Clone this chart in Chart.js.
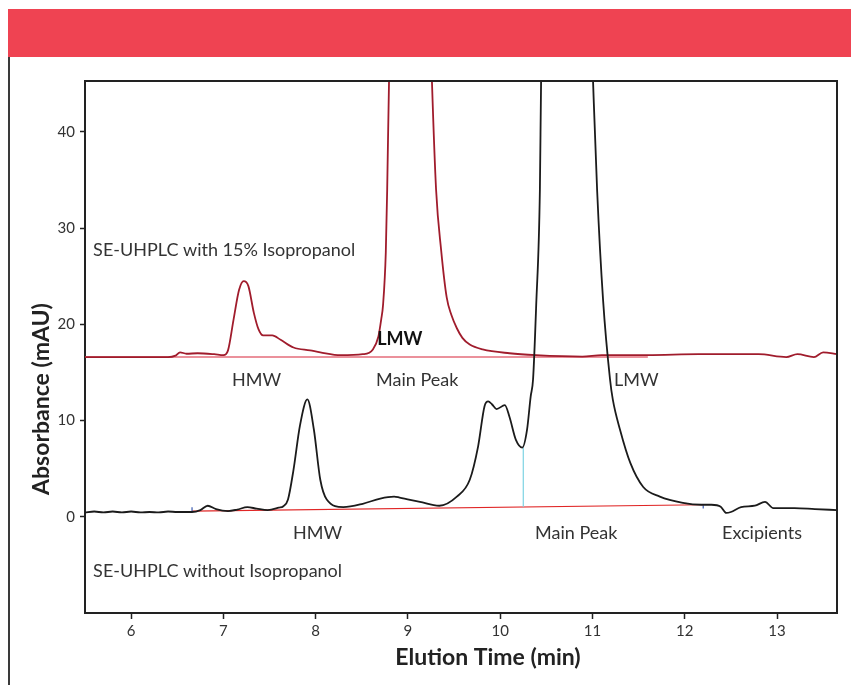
<!DOCTYPE html>
<html>
<head>
<meta charset="utf-8">
<script src="https://cdn.jsdelivr.net/npm/chart.js@4.4.1/dist/chart.umd.min.js"></script>
<style>
  html, body { margin: 0; padding: 0; background: #fff; }
  #wrap { position: relative; width: 851px; height: 685px; overflow: hidden; }
  #banner { position: absolute; left: 8px; top: 9px; width: 843px; height: 48px; background: #ef4352; }
  #rule { position: absolute; left: 8px; top: 57px; width: 1.5px; height: 628px; background: #3a3a3a; }
  #chart { position: absolute; left: 0; top: 0; }
</style>
</head>
<body>
<div id="wrap">
  <div id="banner"></div>
  <div id="rule"></div>
  <canvas id="chart" width="851" height="685"></canvas>
</div>
<script>
// SE-UHPLC with 15% isopropanol (upper trace)
const ipaTime = [5.50, 6.00, 6.40, 6.48, 6.53, 6.60, 6.72, 6.90, 7.00, 7.05, 7.11, 7.17, 7.22, 7.27, 7.33, 7.38, 7.43, 7.53, 7.62, 7.76, 7.94, 8.05, 8.27, 8.51, 8.62, 8.68, 8.71, 8.73, 8.76, 8.775, 8.795, 8.85, 8.95, 9.03, 9.13, 9.21, 9.26, 9.305, 9.36, 9.42, 9.47, 9.53, 9.59, 9.67, 9.81, 10.10, 10.39, 10.89, 11.10, 11.60, 12.15, 12.80, 13.10, 13.22, 13.40, 13.50, 13.65];
const ipaAbs  = [16.6, 16.6, 16.6, 16.75, 17.1, 16.95, 17.0, 16.9, 16.8, 17.3, 20.5, 23.6, 24.5, 24.0, 21.2, 19.5, 18.85, 18.85, 18.4, 17.6, 17.3, 17.1, 16.8, 16.9, 17.4, 18.75, 20.5, 22.0, 27.5, 34.0, 45.3, 62, 78, 84, 78, 62, 45.3, 34.0, 27.7, 22.8, 21.0, 19.6, 18.6, 17.9, 17.4, 17.0, 16.8, 16.65, 16.8, 16.8, 16.9, 16.9, 16.6, 16.9, 16.6, 17.1, 16.9];

// SE-UHPLC without isopropanol (lower trace)
const noIpaTime = [5.50, 5.60, 5.70, 5.80, 5.90, 6.00, 6.10, 6.20, 6.30, 6.40, 6.50, 6.66, 6.75, 6.83, 6.92, 7.05, 7.15, 7.26, 7.36, 7.48, 7.60, 7.65, 7.70, 7.76, 7.83, 7.91, 7.98, 8.05, 8.12, 8.30, 8.51, 8.70, 8.85, 8.91, 9.13, 9.34, 9.53, 9.67, 9.76, 9.83, 9.87, 9.91, 9.96, 10.05, 10.10, 10.17, 10.24, 10.29, 10.33, 10.356, 10.39, 10.43, 10.443, 10.52, 10.72, 10.90, 11.006, 11.05, 11.115, 11.19, 11.22, 11.30, 11.41, 11.55, 11.73, 11.98, 12.18, 12.29, 12.39, 12.45, 12.50, 12.61, 12.76, 12.87, 12.96, 13.19, 13.41, 13.65];
const noIpaAbs  = [0.45, 0.55, 0.45, 0.55, 0.45, 0.55, 0.45, 0.5, 0.45, 0.55, 0.5, 0.5, 0.7, 1.15, 0.8, 0.6, 0.75, 1.0, 0.85, 0.7, 0.95, 1.1, 1.8, 4.9, 9.5, 12.2, 9.1, 3.85, 1.8, 1.0, 1.35, 1.9, 2.1, 2.0, 1.55, 1.15, 2.1, 3.85, 7.3, 11.5, 12.0, 11.7, 11.2, 11.6, 10.4, 8.0, 7.2, 9.0, 12.5, 14.3, 22.0, 34.0, 45.3, 75, 98, 75, 45.3, 34.0, 22.5, 14.3, 12.2, 9.0, 5.6, 3.1, 2.1, 1.45, 1.25, 1.25, 1.05, 0.4, 0.5, 1.0, 1.15, 1.55, 0.9, 0.9, 0.8, 0.7];

// integration baselines and markers
const ipaBaseTime = [5.50, 11.60];
const ipaBaseAbs = [16.6, 16.6];
const noIpaBaseTime = [6.66, 12.20];
const noIpaBaseAbs = [0.6, 1.25];
const dropTime = [10.25, 10.25];
const dropAbs = [1.05, 7.2];
const startTickTime = [6.66, 6.66];
const startTickAbs = [0.5, 1.0];
const endTickTime = [12.20, 12.20];
const endTickAbs = [0.85, 1.2];

const xTicks = [6, 7, 8, 9, 10, 11, 12, 13];
const yTicks = [0, 10, 20, 30, 40];

const xTitle = 'Elution Time (min)';
const yTitle = 'Absorbance (mAU)';

const peakLabels = [
  { text: 'SE-UHPLC with 15% Isopropanol', t: 5.588, v: 27.74 },
  { text: 'HMW', t: 7.094, v: 14.23 },
  { text: 'LMW', t: 8.666, v: 18.49, bold: true },
  { text: 'Main Peak', t: 8.655, v: 14.23 },
  { text: 'LMW', t: 11.234, v: 14.23 },
  { text: 'HMW', t: 7.755, v: -1.66 },
  { text: 'Main Peak', t: 10.378, v: -1.66 },
  { text: 'Excipients', t: 12.404, v: -1.66 },
  { text: 'SE-UHPLC without Isopropanol', t: 5.588, v: -5.61 }
];

function toPoints(xs, ys) {
  return xs.map((t, i) => ({ x: t, y: ys[i] }));
}

function lineSet(xs, ys, color, width, smooth) {
  return {
    data: toPoints(xs, ys),
    borderColor: color,
    borderWidth: width,
    pointRadius: 0,
    fill: false,
    tension: smooth ? 0.4 : 0,
    cubicInterpolationMode: smooth ? 'monotone' : 'default'
  };
}

const labelPlugin = {
  id: 'peakLabels',
  afterDatasetsDraw(chart) {
    const { ctx, scales: { x, y } } = chart;
    ctx.save();
    ctx.textBaseline = 'middle';
    ctx.textAlign = 'left';
    peakLabels.forEach(l => {
      ctx.font = (l.bold ? 'bold ' : '') + '18px Lato';
      ctx.fillStyle = l.bold ? '#111' : '#333';
      ctx.fillText(l.text, x.getPixelForValue(l.t), y.getPixelForValue(l.v));
    });
    ctx.restore();
  }
};

// frame top/right edges and the two axis titles (titles sit off-centre in the original)
const framePlugin = {
  id: 'frame',
  afterDraw(chart) {
    const { ctx, chartArea: a } = chart;
    ctx.save();
    ctx.strokeStyle = '#222';
    ctx.lineWidth = 2;
    ctx.beginPath();
    ctx.moveTo(a.left, a.top);
    ctx.lineTo(a.right, a.top);
    ctx.lineTo(a.right, a.bottom);
    ctx.stroke();

    ctx.fillStyle = '#222';
    ctx.textAlign = 'center';
    ctx.textBaseline = 'middle';
    ctx.font = 'bold 23px Lato';
    ctx.fillText(xTitle, a.left + 403, a.bottom + 45);
    ctx.translate(42, a.top + 318);
    ctx.rotate(-Math.PI / 2);
    ctx.fillText(yTitle, 0, 0);
    ctx.restore();
  }
};

const ctx = document.getElementById('chart').getContext('2d');
new Chart(ctx, {
  type: 'line',
  data: {
    datasets: [
      lineSet(noIpaTime, noIpaAbs, '#1b1b1b', 1.8, true),
      lineSet(ipaTime, ipaAbs, '#a01c2c', 1.8, true),
      lineSet(dropTime, dropAbs, '#7dd3e3', 1.2, false),
      lineSet(startTickTime, startTickAbs, '#3a5bb0', 1.2, false),
      lineSet(endTickTime, endTickAbs, '#3a5bb0', 1.2, false),
      lineSet(noIpaBaseTime, noIpaBaseAbs, '#e02626', 1.2, false),
      lineSet(ipaBaseTime, ipaBaseAbs, '#e56c7a', 1.5, false)
    ]
  },
  options: {
    responsive: false,
    animation: false,
    layout: { padding: { top: 81, right: 14, left: 0, bottom: 0 } },
    plugins: {
      legend: { display: false },
      tooltip: { enabled: false }
    },
    scales: {
      x: {
        type: 'linear',
        min: 5.5,
        max: 13.65,
        afterBuildTicks: s => { s.ticks = xTicks.map(v => ({ value: v })); },
        afterFit: s => { s.height = 72; },
        grid: { drawOnChartArea: false, tickLength: 6, tickColor: '#222', tickWidth: 1.5 },
        border: { display: true, color: '#222', width: 2 },
        ticks: { color: '#333', font: { family: 'Lato', size: 15 }, padding: 3, maxRotation: 0 }
      },
      y: {
        min: -10,
        max: 45.3,
        afterBuildTicks: s => { s.ticks = yTicks.map(v => ({ value: v })); },
        afterFit: s => { s.width = 85; },
        grid: { drawOnChartArea: false, tickLength: 5, tickColor: '#222', tickWidth: 1.5 },
        border: { display: true, color: '#222', width: 2 },
        ticks: { color: '#333', font: { family: 'Lato', size: 15 }, padding: 5 }
      }
    }
  },
  plugins: [labelPlugin, framePlugin]
});
</script>
</body>
</html>
